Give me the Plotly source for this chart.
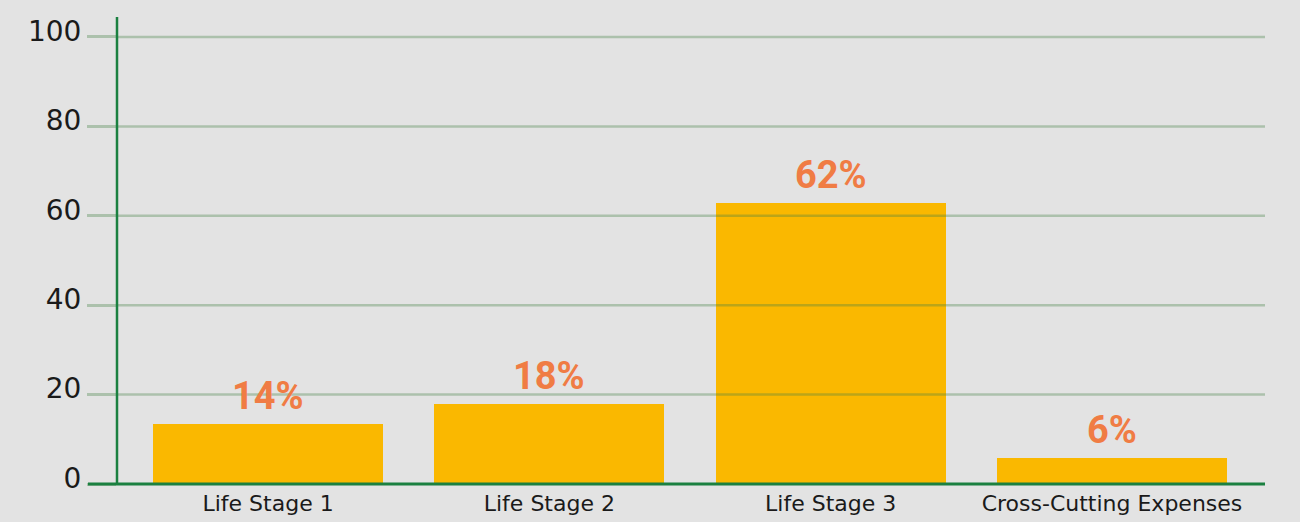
import plotly.graph_objects as go

categories = ["Life Stage 1", "Life Stage 2", "Life Stage 3", "Cross-Cutting Expenses"]
values = [13.4, 17.9, 62.9, 5.8]
value_labels = ["14%", "18%", "62%", "6%"]
y_ticks = [0, 20, 40, 60, 80, 100]

BG = "#e3e3e3"
BAR = "#fab800"
LABEL = "#f07c44"
GREEN = "#1b8040"
GRID = "rgba(70,130,70,0.35)"

W, H = 1300, 522
ML, MR, MT, MB = 117, 35, 17, 32
plot_w = W - ML - MR
tick_ext = 29 / plot_w

fig = go.Figure()
fig.add_trace(go.Bar(
    x=list(range(len(categories))), y=values,
    marker=dict(color=BAR, line=dict(width=0)),
    width=0.818, hoverinfo="skip",
))

for i, (v, t) in enumerate(zip(values, value_labels)):
    fig.add_annotation(
        x=i, y=v, text=t, showarrow=False, yanchor="bottom", yshift=4,
        font=dict(family="Roboto", size=38, color=LABEL, weight="bold"),
    )

shapes = []
for t in y_ticks[1:]:
    shapes.append(dict(type="line", xref="paper", yref="y", x0=0, x1=1, y0=t, y1=t,
                       line=dict(color=GRID, width=2.5), layer="above"))
shapes.append(dict(type="line", xref="paper", yref="y", x0=-tick_ext, x1=1, y0=0, y1=0,
                   line=dict(color=GREEN, width=3), layer="above"))
shapes.append(dict(type="line", xref="paper", yref="paper", x0=0, x1=0, y0=(490-485)/(H-MT-MB), y1=1,
                   line=dict(color=GREEN, width=2.5), layer="above"))

fig.update_layout(
    width=W, height=H,
    margin=dict(l=ML, r=MR, t=MT, b=MB, pad=0, autoexpand=False),
    paper_bgcolor=BG, plot_bgcolor=BG,
    showlegend=False,
    bargap=0,
    shapes=shapes,
    xaxis=dict(
        range=[-0.537, 3.544], tickmode="array",
        tickvals=list(range(len(categories))), ticktext=categories,
        showgrid=False, zeroline=False, showline=False, ticks="",
        ticklabelstandoff=-2, automargin=False,
        tickfont=dict(family="DejaVu Sans", size=22, color="#1a1a1a"),
        fixedrange=True,
    ),
    yaxis=dict(
        range=[-1.34, 104.47], tickmode="array", tickvals=y_ticks,
        showgrid=False, zeroline=False, showline=False,
        ticks="outside", ticklen=29, tickwidth=2.5, tickcolor=GRID,
        ticklabelshift=-6, automargin=False,
        tickfont=dict(family="DejaVu Sans", size=28, color="#1a1a1a"),
        fixedrange=True,
    ),
)

fig.write_html("out.html", config={"displayModeBar": False},
               post_script="document.body.style.margin='0';document.body.style.background='#e3e3e3';")
